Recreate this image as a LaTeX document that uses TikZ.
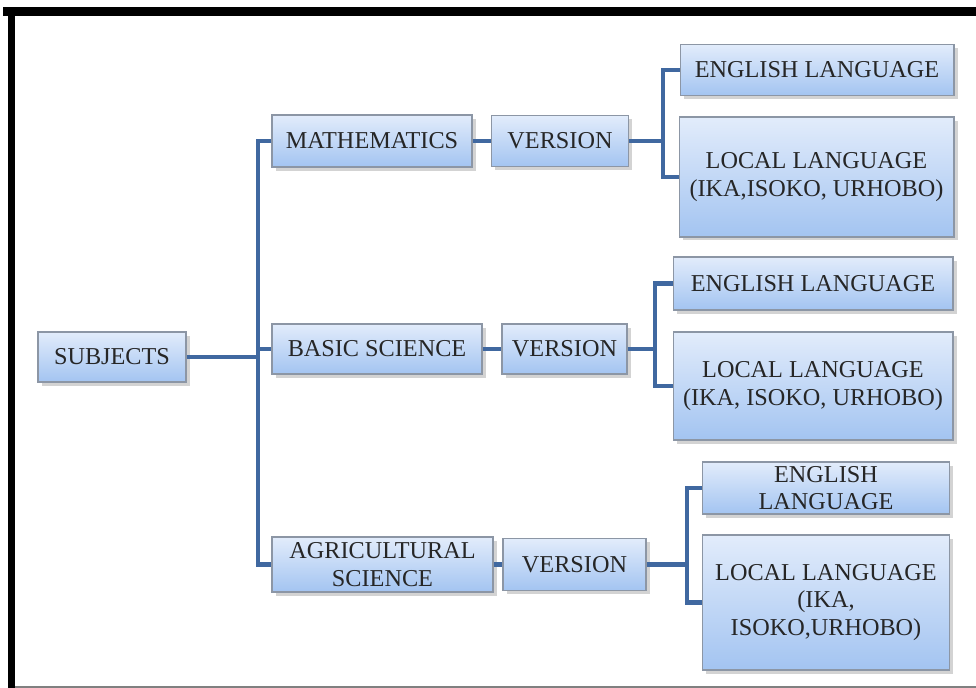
\documentclass[tikz,border=0pt]{standalone}
\usepackage{fontspec}
\setmainfont{Liberation Serif}
\usetikzlibrary{shadows}

\definecolor{boxtop}{RGB}{226,236,251}
\definecolor{boxbottom}{RGB}{163,196,241}
\definecolor{boxedge}{RGB}{140,150,165}
\definecolor{linkblue}{RGB}{64,104,160}

\begin{document}
\begin{tikzpicture}[x=0.02cm,
					y=-0.02cm,
					%node distance=2cm,
					box node/.style={rectangle,draw=boxedge,line width=0.6pt,
						top color=boxtop,bottom color=boxbottom,
						drop shadow={shadow xshift=2pt,shadow yshift=-2pt,opacity=0.35},
						align=center,inner sep=2pt,
						font=\fontsize{13.8}{15.5}\selectfont,text=black!85},
					link/.style={draw=linkblue,line width=2.4pt}]

  \useasboundingbox (0,0) rectangle (976,688);

  % frame
  \fill[black] (3,7) rectangle (976,16);
  \fill[black] (8,7) rectangle (15,688);
  \draw[gray,line width=1.2pt] (15,687) -- (976,687);

  % root
  \node[box node,minimum width=2.96cm,minimum height=1.0cm] (subj) at (112,357) {SUBJECTS};

  % subjects
  \node[box node,minimum width=4.0cm,minimum height=1.04cm] (math) at (372,141) {MATHEMATICS};
  \node[box node,minimum width=4.2cm,minimum height=1.0cm] (basic) at (377,349) {BASIC SCIENCE};
  \node[box node,minimum width=4.42cm,minimum height=1.1cm] (agri) at (382.5,564.5) {AGRICULTURAL\\SCIENCE};

  % versions
  \node[box node,minimum width=2.74cm,minimum height=1.02cm] (mver) at (560,141) {VERSION};
  \node[box node,minimum width=2.5cm,minimum height=1.0cm] (bver) at (564.5,349) {VERSION};
  \node[box node,minimum width=2.86cm,minimum height=1.04cm] (aver) at (574.5,564.5) {VERSION};

  % languages
  \node[box node,minimum width=5.48cm,minimum height=1.02cm] (meng) at (817,70) {ENGLISH LANGUAGE};
  \node[box node,minimum width=5.5cm,minimum height=2.4cm] (mloc) at (816.5,177) {LOCAL LANGUAGE\\(IKA,ISOKO, URHOBO)};
  \node[box node,minimum width=5.6cm,minimum height=1.06cm] (beng) at (813,283.5) {ENGLISH LANGUAGE};
  \node[box node,minimum width=5.6cm,minimum height=2.16cm] (bloc) at (813,386) {LOCAL LANGUAGE\\(IKA, ISOKO, URHOBO)};
  \node[box node,minimum width=4.94cm,minimum height=1.04cm] (aeng) at (826,488) {ENGLISH\\LANGUAGE};
  \node[box node,minimum width=4.94cm,minimum height=2.7cm] (aloc) at (826,602.5) {LOCAL LANGUAGE\\(IKA,\\ISOKO,URHOBO)};

  % branch points
  \coordinate (trunk) at (258,357);
  \coordinate (mfork) at (663,141);
  \coordinate (bfork) at (655,349);
  \coordinate (afork) at (687,564.5);

  \path[link]
    (subj.east) edge (trunk)
    (trunk |- basic.west) edge (basic.west)
    (math) edge (mver)
    (basic) edge (bver)
    (agri) edge (aver)
    (mver.east) edge (mfork)
    (bver.east) edge (bfork)
    (aver.east) edge (afork);

  \draw[link] (math.west) -| (trunk) |- (agri.west);
  \draw[link] (meng.west) -| (mfork) |- (mloc.west);
  \draw[link] (beng.west) -| (bfork) |- (bloc.west);
  \draw[link] (aeng.west) -| (afork) |- (aloc.west);
\end{tikzpicture}
\end{document}
